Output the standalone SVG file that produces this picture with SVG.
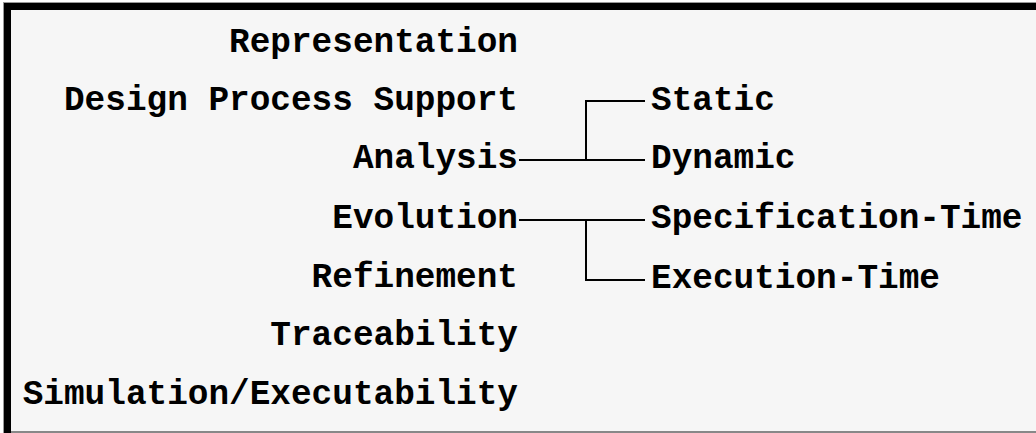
<svg xmlns="http://www.w3.org/2000/svg" width="1036" height="433" viewBox="0 0 1036 433">
<style>
text{font-family:"Liberation Mono","Courier New",monospace;font-weight:bold;font-size:34.4px;fill:#000}
.l{text-anchor:end}
.c{stroke:#000;stroke-width:2;fill:none}
</style>
<rect x="0" y="0" width="1036" height="433" fill="#fff"/>
<rect x="3" y="2" width="1033" height="431" fill="#999"/>
<rect x="4" y="3" width="1032" height="430" fill="#000"/>
<rect x="11" y="10" width="1025" height="421" fill="#f6f6f6"/>
<rect x="11" y="431" width="1025" height="2" fill="#888"/>
<g id="representation"><text class="l" x="518" y="52">Representation</text></g>
<g id="design-process-support"><text class="l" x="518" y="110">Design Process Support</text></g>
<g id="analysis"><text class="l" x="518" y="168">Analysis</text></g>
<g id="evolution"><text class="l" x="518" y="228">Evolution</text></g>
<g id="refinement"><text class="l" x="518" y="287">Refinement</text></g>
<g id="traceability"><text class="l" x="518" y="345">Traceability</text></g>
<g id="simulation"><text class="l" x="518" y="404">Simulation/Executability</text></g>
<g id="static"><text x="651" y="110">Static</text></g>
<g id="dynamic"><text x="651" y="168">Dynamic</text></g>
<g id="specification-time"><text x="651" y="228">Specification-Time</text></g>
<g id="execution-time"><text x="651" y="288">Execution-Time</text></g>
<g id="connectors">
<path class="c" d="M519 160H645M586 160V101H645"/>
<path class="c" d="M519 220H645M586 220V280H645"/>
</g>
</svg>
